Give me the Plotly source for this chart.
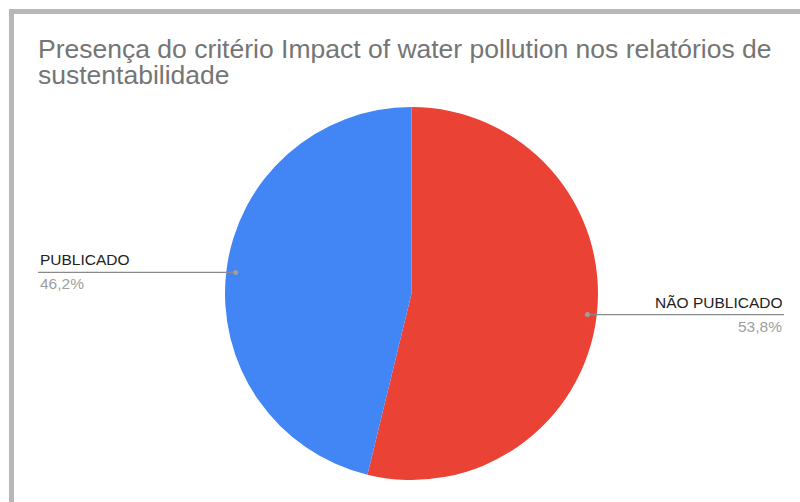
import math
import plotly.graph_objects as go

# Dados do gráfico
categorias = ["NÃO PUBLICADO", "PUBLICADO"]
percentuais = [53.8, 46.2]
cores = ["#EA4335", "#4285F4"]
rotulos_pct = ["53,8%", "46,2%"]
titulo_linhas = [
    "Presença do critério Impact of water pollution nos relatórios de",
    "sustentabilidade",
]

W, H = 800, 502
FONT = "Liberation Sans, Arial, sans-serif"

# Área da pizza (em pixels)
cx, cy, r = 411.5, 293.5, 186.5
dom_x = [(cx - r) / W, (cx + r) / W]
dom_y = [1 - (cy + r) / H, 1 - (cy - r) / H]

fig = go.Figure(
    go.Pie(
        labels=categorias,
        values=percentuais,
        marker=dict(colors=cores, line=dict(width=0)),
        sort=False,
        direction="clockwise",
        rotation=0,
        textinfo="none",
        hoverinfo="label+percent",
        showlegend=False,
        domain=dict(x=dom_x, y=dom_y),
    )
)

shapes = []
annotations = []

# Bordas cinzas à esquerda e no topo
shapes.append(dict(type="line", xref="paper", yref="paper",
                   x0=9 / W, x1=1, y0=1 - 11.5 / H, y1=1 - 11.5 / H,
                   line=dict(color="#b7b7b7", width=5)))
shapes.append(dict(type="line", xref="paper", yref="paper",
                   x0=11.5 / W, x1=11.5 / W, y0=0, y1=1 - 9 / H,
                   line=dict(color="#b7b7b7", width=5)))

# Título em duas linhas
for i, linha in enumerate(titulo_linhas):
    annotations.append(dict(
        text=linha, xref="paper", yref="paper",
        x=36 / W, y=1 - (66 + i * 26) / H,
        xanchor="left", yanchor="bottom", showarrow=False,
        font=dict(family=FONT, size=26.5, color="#757575"),
    ))

# Linhas de chamada e rótulos, a partir do ângulo médio de cada fatia
total = sum(percentuais)
acum = 0.0
for nome, val, pct in zip(categorias, percentuais, rotulos_pct):
    meio = (acum + val / 2) / total * 2 * math.pi
    acum += val
    px = cx + 0.95 * r * math.sin(meio)
    py = cy - 0.95 * r * math.cos(meio)
    direita = math.sin(meio) > 0
    x_fim = 784 if direita else 38
    shapes.append(dict(type="line", xref="paper", yref="paper",
                       x0=px / W, x1=x_fim / W, y0=1 - py / H, y1=1 - py / H,
                       line=dict(color="#8a8a8a", width=1.2)))
    shapes.append(dict(type="circle", xref="paper", yref="paper",
                       x0=(px - 2.5) / W, x1=(px + 2.5) / W,
                       y0=1 - (py + 2.5) / H, y1=1 - (py - 2.5) / H,
                       fillcolor="#9e9e9e", line=dict(width=0)))
    anc = "right" if direita else "left"
    annotations.append(dict(
        text=nome, xref="paper", yref="paper",
        x=x_fim / W, y=1 - (py - 2) / H,
        xanchor=anc, yanchor="bottom", showarrow=False,
        font=dict(family=FONT, size=15.5, color="#222222"),
    ))
    annotations.append(dict(
        text=pct, xref="paper", yref="paper",
        x=x_fim / W, y=1 - (py + 1) / H,
        xanchor=anc, yanchor="top", showarrow=False,
        font=dict(family=FONT, size=15.5, color="#9e9e9e"),
    ))

fig.update_layout(
    width=W, height=H,
    margin=dict(l=0, r=0, t=0, b=0),
    paper_bgcolor="white",
    plot_bgcolor="white",
    shapes=shapes,
    annotations=annotations,
)

fig.write_html("out.html")
